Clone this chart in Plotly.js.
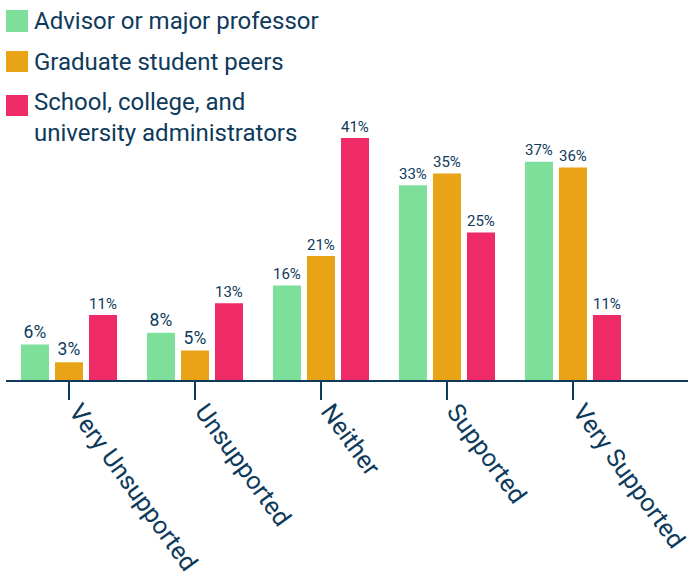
<!DOCTYPE html>
<html>
<head>
<meta charset="utf-8">
<script src="https://cdn.plot.ly/plotly-3.0.1.min.js"></script>
<style>html,body{margin:0;padding:0;background:#fff;}#chart{width:688px;height:581px;}</style>
</head>
<body>
<div id="chart"></div>
<script>
const categories = ["Very Unsupported", "Unsupported", "Neither", "Supported", "Very Supported"];
const seriesNames = ["Advisor or major professor", "Graduate student peers", "School, college, and<br>university administrators"];
const advisor = [6, 8, 16, 33, 37];
const peers = [3, 5, 21, 35, 36];
const admins = [11, 13, 41, 25, 11];
const colors = ["#7EDF9B", "#E8A317", "#EE2A67"];
const navy = "#0E3A5B";
const FONT = "Roboto, 'Noto Sans', sans-serif";

const seriesValues = [advisor, peers, admins];
const traces = seriesValues.map((vals, i) => ({
  type: "bar",
  x: categories,
  y: vals,
  name: seriesNames[i],
  marker: {color: colors[i]},
  text: vals.map(v => v + "%"),
  textposition: "outside",
  textfont: {family: FONT, size: 17.5, color: navy},
  cliponaxis: false,
  hoverinfo: "none"
}));

// custom legend (swatches + labels)
const swatchY = [[0.97368, 0.91579], [0.86579, 0.81053], [0.75, 0.69474]];
const labelY = [0.9447, 0.8368, 0.6895];
const shapes = swatchY.map((yy, i) => ({
  type: "rect", xref: "paper", yref: "paper",
  x0: 0, x1: 0.03226, y0: yy[1], y1: yy[0],
  fillcolor: colors[i], line: {width: 0}
}));
const annotations = seriesNames.map((n, i) => ({
  xref: "paper", yref: "paper", x: 0.039, y: labelY[i],
  xanchor: "left", yanchor: "middle", align: "left",
  text: n, showarrow: false, borderpad: 0,
  font: {family: FONT, size: 24, color: navy}
}));

const layout = {
  width: 688, height: 581,
  margin: {l: 6, r: 0, t: 0, b: 201, pad: 0},
  paper_bgcolor: "#fff", plot_bgcolor: "#fff",
  showlegend: false,
  barmode: "group",
  bargap: 0.19,
  bargroupgap: 0.176,
  xaxis: {
    type: "category",
    range: [-0.5, 4.913],
    showline: true, linecolor: navy, linewidth: 2,
    ticks: "outside", ticklen: 18, tickwidth: 2, tickcolor: navy,
    tickangle: 54,
    ticklabelshift: 9,
    ticklabelstandoff: -13,
    tickfont: {family: FONT, size: 25, color: navy},
    showgrid: false, zeroline: false, fixedrange: true
  },
  yaxis: {
    range: [0, 64.4],
    visible: false, showgrid: false, zeroline: false, fixedrange: true
  },
  shapes: shapes,
  annotations: annotations
};

Plotly.newPlot("chart", traces, layout, {displayModeBar: false, staticPlot: true});
</script>
</body>
</html>
